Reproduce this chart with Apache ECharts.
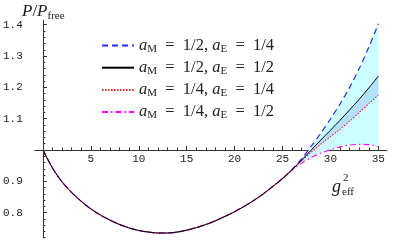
<!DOCTYPE html>
<html><head><meta charset="utf-8">
<script src="https://cdn.jsdelivr.net/npm/echarts@6/dist/echarts.min.js"></script>
<style>html,body{margin:0;padding:0;background:#fff}#c{width:403px;height:252px}</style>
</head><body><div id="c"></div>
<script>
// ---- data ----
const gBase = [0,1,2,3,4,5,6,7,8,9,10,11,12,13,14,15,16,17,18,19,20,21,22,23,24,25];
const pBase = [1.000,0.942,0.898,0.864,0.836,0.812,0.792,0.776,0.762,0.751,0.743,0.738,0.735,0.735,0.738,0.744,0.752,0.762,0.774,0.788,0.803,0.820,0.839,0.860,0.884,0.909];
const gTail = [26,27,28,29,30,31,32,33,34,35];
const blueTail    = [0.938,0.972,1.012,1.054,1.099,1.147,1.200,1.260,1.328,1.403];
const blackTail   = [0.937,0.968,1.000,1.032,1.063,1.095,1.128,1.162,1.198,1.236];
const redTail     = [0.937,0.965,0.993,1.019,1.043,1.066,1.092,1.120,1.148,1.176];
const magentaTail = [0.936,0.958,0.976,0.990,1.001,1.010,1.016,1.018,1.017,1.011];
const seriesNames = ['aM12aE14','aM12aE12','aM14aE14','aM14aE12'];
const legendLabels = [
  '{a|a}{s|M}{t|  =  1/2, }{a|a}{s|E}{t|  =  1/4}',
  '{a|a}{s|M}{t|  =  1/2, }{a|a}{s|E}{t|  =  1/2}',
  '{a|a}{s|M}{t|  =  1/4, }{a|a}{s|E}{t|  =  1/4}',
  '{a|a}{s|M}{t|  =  1/4, }{a|a}{s|E}{t|  =  1/2}'
];
const xMajorTicks = [5,10,15,20,25,30,35];
const xMinorTicks = [1,2,3,4,6,7,8,9,11,12,13,14,16,17,18,19,21,22,23,24,26,27,28,29,31,32,33,34];
const yMajorTicks = [0.8,0.9,1.1,1.2,1.3,1.4];
const yMinorTicks = [0.72,0.74,0.76,0.78,0.82,0.84,0.86,0.88,0.92,0.94,0.96,0.98,1.02,1.04,1.06,1.08,1.12,1.14,1.16,1.18,1.22,1.24,1.26,1.28,1.32,1.34,1.36,1.38];

// ---- layout ----
const X_MIN = -0.85, X_MAX = 35.9, Y_MIN = 0.719, Y_MAX = 1.415;
const G_LEFT = 32, G_RIGHT = 16, G_TOP = 20, G_BOTTOM = 14;
const gridH = 252 - G_TOP - G_BOTTOM;
const xAxisOffset = -gridH * (1 - Y_MIN) / (Y_MAX - Y_MIN);

function full(tail){ return gBase.map((g,i)=>[g,pBase[i]]).concat(gTail.map((g,i)=>[g,tail[i]])); }

function bandSeries(upper, lower, color, z){
  return {
    type:'custom', silent:true, z:z, data:[0],
    renderItem:function(params, api){
      const pts = [];
      gTail.forEach((g,i)=>pts.push(api.coord([g, upper[i]])));
      for (let i = gTail.length-1; i >= 0; i--) pts.push(api.coord([gTail[i], lower[i]]));
      return {type:'polygon', shape:{points:pts}, style:{fill:color, stroke:null}};
    }
  };
}

const serif = 'Liberation Serif';
const mono = 'Liberation Mono';
const rich = {
  a:{fontFamily:serif,fontStyle:'italic',fontSize:16.5,color:'#222',lineHeight:18},
  s:{fontFamily:serif,fontSize:11,color:'#222',lineHeight:18,verticalAlign:'bottom'},
  t:{fontFamily:serif,fontSize:16.5,color:'#222',lineHeight:18}
};

const chart = echarts.init(document.getElementById('c'));
const SM = 0.3;
const tickLabelStyle = {fontFamily:mono,fontSize:11,color:'#222'};
chart.setOption({
  animation:false,
  backgroundColor:'#fff',
  grid:{left:G_LEFT,right:G_RIGHT,top:G_TOP,bottom:G_BOTTOM,containLabel:false},
  xAxis:[
    {type:'value',min:X_MIN,max:X_MAX,position:'bottom',offset:xAxisOffset,
     axisLine:{onZero:false,lineStyle:{color:'#333',width:1}},
     axisTick:{show:true,inside:true,length:4,customValues:xMajorTicks,lineStyle:{color:'#333'}},
     axisLabel:{show:true,customValues:xMajorTicks,margin:4,...tickLabelStyle},
     splitLine:{show:false}},
    {type:'value',min:X_MIN,max:X_MAX,position:'bottom',offset:xAxisOffset,
     axisLine:{show:false,onZero:false},
     axisTick:{show:true,inside:true,length:2.5,customValues:xMinorTicks,lineStyle:{color:'#333'}},
     axisLabel:{show:false},splitLine:{show:false}}
  ],
  yAxis:[
    {type:'value',min:Y_MIN,max:Y_MAX,position:'left',
     axisLine:{show:true,onZero:true,lineStyle:{color:'#333',width:1}},
     axisTick:{show:true,inside:true,length:4,customValues:yMajorTicks,lineStyle:{color:'#333'}},
     axisLabel:{show:true,customValues:yMajorTicks,margin:12,formatter:v=>v.toFixed(1),...tickLabelStyle},
     splitLine:{show:false}},
    {type:'value',min:Y_MIN,max:Y_MAX,position:'left',
     axisLine:{show:false,onZero:true},
     axisTick:{show:true,inside:true,length:2.5,customValues:yMinorTicks,lineStyle:{color:'#333'}},
     axisLabel:{show:false},splitLine:{show:false}}
  ],
  legend:{
    left:96,top:32,orient:'vertical',itemWidth:32,itemHeight:10,itemGap:4.7,
    data:seriesNames,
    formatter:name=>legendLabels[seriesNames.indexOf(name)],
    textStyle:{rich:rich},
    itemStyle:{opacity:0}
  },
  series:[
    bandSeries(blueTail, magentaTail, '#ccffff', 1),
    bandSeries(blackTail, redTail, '#b2e2ff', 2),
    {type:'line',name:seriesNames[0],data:full(blueTail),symbol:'none',smooth:SM,color:'#2b2bff',lineStyle:{color:'#2b2bff',width:1.2,type:[6,4]},z:5},
    {type:'line',name:seriesNames[3],data:full(magentaTail),symbol:'none',smooth:SM,color:'#ff00ff',lineStyle:{color:'#ff00ff',width:1.1,type:[6,3,1.5,3]},z:5},
    {type:'line',name:seriesNames[2],data:full(redTail),symbol:'none',smooth:SM,color:'#ff2020',lineStyle:{color:'#ff2020',width:1.1,type:[1.5,1.5]},z:5},
    {type:'line',name:seriesNames[1],data:full(blackTail),symbol:'none',smooth:SM,color:'#000',lineStyle:{color:'#000',width:1,type:'solid'},z:6}
  ],
  graphic:[
    {type:'text',left:22,top:3,style:{rich:{
        i:{fontFamily:serif,fontStyle:'italic',fontSize:17,fill:'#222',lineHeight:20},
        n:{fontFamily:serif,fontSize:17,fill:'#222',lineHeight:20},
        s:{fontFamily:serif,fontSize:11,fill:'#222',lineHeight:20,verticalAlign:'bottom'}},
      text:'{i|P}{n|/}{i|P}{s|free}'}},
    {type:'text',x:332,y:178,style:{text:'g',fontFamily:serif,fontStyle:'italic',fontSize:18,fill:'#222'}},
    {type:'text',x:343,y:173,style:{text:'2',fontFamily:serif,fontSize:11,fill:'#222'}},
    {type:'text',x:342,y:187,style:{text:'eff',fontFamily:serif,fontSize:11,fill:'#222'}}
  ]
});
</script></body></html>
